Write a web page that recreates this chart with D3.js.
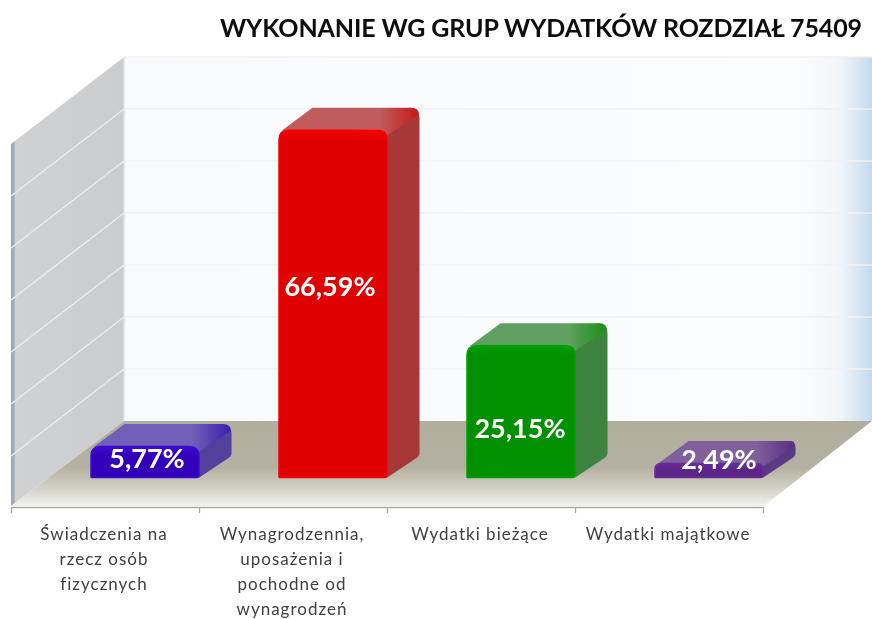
<!DOCTYPE html>
<html><head><meta charset="utf-8">
<script src="https://cdn.jsdelivr.net/npm/d3@7"></script>
<style>
html,body{margin:0;padding:0;background:#fff}
svg{display:block;filter:blur(0.6px)}
text{font-family:Lato,"Noto Sans",sans-serif}
</style></head><body>
<svg id="c" width="872" height="619"></svg>
<script>
const title = "WYKONANIE WG GRUP WYDATKÓW ROZDZIAŁ 75409";
const categories = ["Świadczenia na rzecz osób fizycznych","Wynagrodzennia, uposażenia i pochodne od wynagrodzeń","Wydatki bieżące","Wydatki majątkowe"];
const categoryLines = [["Świadczenia na","rzecz osób","fizycznych"],["Wynagrodzennia,","uposażenia i","pochodne od","wynagrodzeń"],["Wydatki bieżące"],["Wydatki majątkowe"]];
const values = [5.77,66.59,25.15,2.49];
const valueLabels = ["5,77%","66,59%","25,15%","2,49%"];
const yTicks = [0,10,20,30,40,50,60,70];
const palette = [
 {front:"#3200b8",hi:"#3d0cd4",top:"#7060b8",topEnd:"#3a1eae",side:"#51409c"},
 {front:"#e00000",hi:"#f80000",top:"#c05c5c",topEnd:"#c81818",side:"#a83838"},
 {front:"#009000",hi:"#00a000",top:"#60a060",topEnd:"#189018",side:"#3e843e"},
 {front:"#5a2486",hi:"#662c98",top:"#80609a",topEnd:"#5a2c88",side:"#5a3a82"}
];

const svg = d3.select("#c"), defs = svg.append("defs");
const wallL=124, wallR=872, wallT=57, wallB=421, frontL=11, frontR=763, wallDX=113, wallDY=87;
const y = d3.scaleLinear().domain([0,70]).range([wallB,wallT]);
const band = d3.scaleBand().domain(categories).range([frontL,frontR]);
const pxPerUnit = (wallB-wallT)/70;
const barW=109, barBase=478, depthX=32, depthY=22, barShift=(band.bandwidth()-barW)/2+40;

function grad(id,dir,stops){
  const g=defs.append("linearGradient").attr("id",id);
  g.attr("x1",0).attr("y1",0).attr("x2",dir==="h"?1:0).attr("y2",dir==="h"?0:1);
  stops.forEach(s=>g.append("stop").attr("offset",s[0]).attr("stop-color",s[1]));
}
grad("wallG","h",[[0,"#f8fafd"],[0.9,"#fbfcfe"],[0.955,"#f2f6fb"],[1,"#c6daee"]]);
grad("floorG","v",[[0,"#b2ae9e"],[0.55,"#b5b1a2"],[0.78,"#d2d0c5"],[1,"#f3f2ee"]]);
grad("leftG","h",[[0,"#9aa6b2"],[0.03,"#a8b0b8"],[0.035,"#cfd1d3"],[1,"#cbcccd"]]);

svg.append("rect").attr("x",wallL).attr("y",wallT).attr("width",wallR-wallL).attr("height",wallB-wallT).attr("fill","url(#wallG)");
svg.append("line").attr("x1",wallL).attr("x2",wallR).attr("y1",wallT).attr("y2",wallT).attr("stroke","#eeeff1").attr("stroke-width",1.5);
const line=d3.line();
svg.append("path").attr("d",line([[frontL,wallT+wallDY],[wallL,wallT],[wallL,wallB],[frontL,wallB+wallDY-2]])+"Z").attr("fill","url(#leftG)");
svg.append("line").attr("x1",wallL).attr("x2",wallL).attr("y1",wallT).attr("y2",wallB).attr("stroke","#dfe2e6").attr("stroke-width",1.5);
svg.selectAll(".gb").data(yTicks.slice(1,-1)).join("line").attr("x1",wallL).attr("x2",wallR)
  .attr("y1",d=>y(d)).attr("y2",d=>y(d)).attr("stroke","#f0f1f2").attr("stroke-width",1.5);
svg.selectAll(".gl").data(yTicks.slice(1,-1)).join("line").attr("x1",wallL).attr("x2",frontL)
  .attr("y1",d=>y(d)).attr("y2",d=>y(d)+wallDY).attr("stroke","#ebecec").attr("stroke-width",1.5);
svg.append("path").attr("d",line([[wallL,wallB],[wallR,wallB],[frontR+1,wallB+wallDY-2],[frontL,wallB+wallDY-2]])+"Z").attr("fill","url(#floorG)");
const tickScale=d3.scaleLinear().domain([0,categories.length]).range([frontL,frontR]);
const ax=svg.append("g").attr("transform","translate(0,507)").call(d3.axisBottom(tickScale).tickValues(d3.range(categories.length+1)).tickFormat("").tickSize(6).tickSizeOuter(0));
ax.selectAll("path,line").attr("stroke","#a9a9a9").attr("stroke-width",1.3);

const labelNudge=[[2,-4],[-3,-18],[-1,16],[10,-12]];
const labelY=i=>{const t=barBase-values[i]*pxPerUnit;return (barBase+t)/2;};
values.forEach((v,i)=>{
  const c=palette[i], x0=band(categories[i])+barShift, x1=x0+barW, yT=barBase-v*pxPerUnit-2, yB=barBase;
  const r=Math.min(10,(yB-yT)*0.45), g=svg.append("g");
  grad("top"+i,"h",[[0,c.top],[0.72,c.top],[1,c.topEnd]]);
  grad("hi"+i,"v",[[0,c.hi],[Math.min(1,9/(yB-yT)),c.front],[1,c.front]]);
  g.append("path").attr("d",`M${x1-1},${yB} L${x1+depthX-3},${yB-depthY+2} Q${x1+depthX},${yB-depthY} ${x1+depthX},${yB-depthY-2} L${x1+depthX},${yT-depthY+r} Q${x1+depthX},${yT-depthY} ${x1+depthX-r},${yT-depthY} L${x1-r},${yT} L${x1-1},${yT+r} Z`).attr("fill",c.side);
  g.append("path").attr("d",`M${x0+3},${yT+1} L${x0+depthX+2},${yT-depthY} L${x1+depthX-r+1},${yT-depthY} Q${x1+depthX},${yT-depthY} ${x1+depthX-1},${yT-depthY+r*0.7} L${x1-1},${yT+r*0.6} L${x1-r},${yT} Z`).attr("fill",`url(#top${i})`);
  g.append("path").attr("d",`M${x0+0.5},${yB-1} L${x0+0.5},${yT+r} Q${x0+0.5},${yT+0.5} ${x0+r},${yT+0.5} L${x1-r},${yT+0.5} Q${x1-0.5},${yT+0.5} ${x1-0.5},${yT+r} L${x1-0.5},${yB-3} Q${x1-0.5},${yB-0.5} ${x1-3},${yB-0.5} L${x0+1},${yB-0.5} Z`)
    .attr("fill",`url(#hi${i})`).attr("stroke",c.hi).attr("stroke-width",1.5);
  g.append("text").attr("x",(x0+x1)/2+labelNudge[i][0]).attr("y",labelY(i)+labelNudge[i][1]+9)
    .attr("text-anchor","middle").attr("fill","#fff").attr("font-weight",700).attr("font-size",27).text(valueLabels[i]);
});

categoryLines.forEach((ls,i)=>{
  const t=svg.append("text").attr("text-anchor","middle").attr("fill","#404040").attr("font-size",17).attr("letter-spacing",1);
  ls.forEach((s,j)=>t.append("tspan").attr("x",band(categories[i])+band.bandwidth()/2-1).attr("y",540+j*25).text(s));
});
svg.append("text").attr("x",862).attr("y",37).attr("text-anchor","end").attr("font-size",25).attr("letter-spacing",-0.1).attr("font-weight",700).attr("fill","#0d0d0d").text(title);
</script></body></html>
